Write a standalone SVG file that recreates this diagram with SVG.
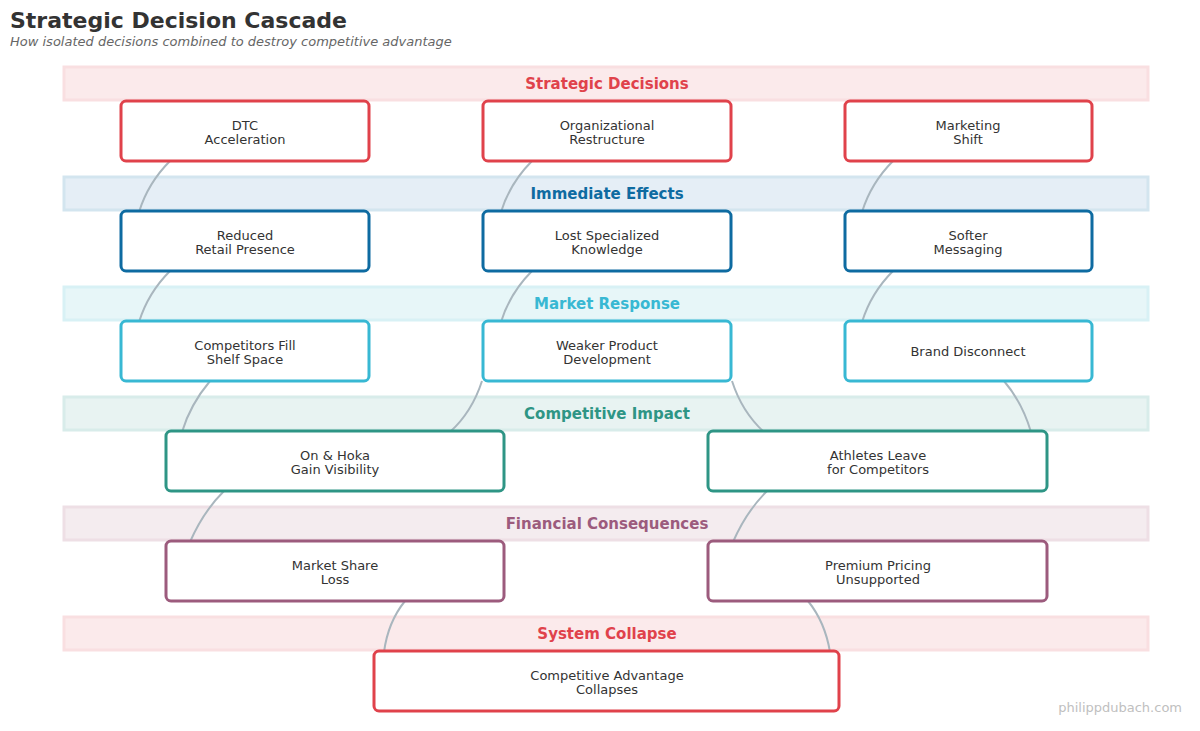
<svg xmlns="http://www.w3.org/2000/svg" width="1200" height="731" viewBox="0 0 1200 731">
<style>
text{font-family:"DejaVu Sans","Noto Sans",sans-serif}
.t{font-size:13px;fill:#333;text-anchor:middle}
.bl{font-size:15px;font-weight:bold;text-anchor:middle}
.n{fill:#fff;stroke-width:3}
.e{fill:none;stroke:#a9b6be;stroke-width:2}
</style>
<rect width="1200" height="731" fill="#fff"/>
<text x="10" y="28" font-size="22" font-weight="bold" fill="#333">Strategic Decision Cascade</text>
<text x="10" y="46" font-size="13" font-style="italic" fill="#666">How isolated decisions combined to destroy competitive advantage</text>
<g id="bands" stroke-width="3">
<rect x="64" y="67" width="1084" height="33" fill="#fbeaeb" stroke="#f9dfe1"/>
<rect x="64" y="177" width="1084" height="33" fill="#e5eef6" stroke="#d3e5ef"/>
<rect x="64" y="287" width="1084" height="33" fill="#e7f6f8" stroke="#d8f1f5"/>
<rect x="64" y="397" width="1084" height="33" fill="#e8f3f2" stroke="#d8ecea"/>
<rect x="64" y="507" width="1084" height="33" fill="#f4ecef" stroke="#eedfe5"/>
<rect x="64" y="617" width="1084" height="33" fill="#fbeaeb" stroke="#f9dfe1"/>
<text class="bl" x="607" y="89" fill="#e0424b">Strategic Decisions</text>
<text class="bl" x="607" y="199" fill="#0e6ba1">Immediate Effects</text>
<text class="bl" x="607" y="309" fill="#38b8d3">Market Response</text>
<text class="bl" x="607" y="419" fill="#2e9585">Competitive Impact</text>
<text class="bl" x="607" y="529" fill="#9c5b7d">Financial Consequences</text>
<text class="bl" x="607" y="639" fill="#e0424b">System Collapse</text>
</g>
<g id="connectors">
<path class="e" d="M170,161 Q148,183 139,212"/>
<path class="e" d="M532,161 Q510,183 501,212"/>
<path class="e" d="M893,161 Q871,183 862,212"/>
<path class="e" d="M170,271 Q148,293 139,322"/>
<path class="e" d="M532,271 Q510,293 501,322"/>
<path class="e" d="M893,271 Q871,293 862,322"/>
<path class="e" d="M210,381 Q190,405 182,432"/>
<path class="e" d="M482,381 Q472,412 450,432"/>
<path class="e" d="M732,381 Q742,412 764,432"/>
<path class="e" d="M1004,381 Q1022,402 1031,432"/>
<path class="e" d="M224,491 Q203,512 190,542"/>
<path class="e" d="M767,491 Q746,512 733,542"/>
<path class="e" d="M405,601 Q388,622 384,652"/>
<path class="e" d="M808,601 Q825,622 830,652"/>
</g>
<g id="n1"><rect class="n" x="121" y="101" width="248" height="60" rx="5" stroke="#e0424b"/><text class="t" x="245" y="130">DTC</text><text class="t" x="245" y="144">Acceleration</text></g>
<g id="n2"><rect class="n" x="483" y="101" width="248" height="60" rx="5" stroke="#e0424b"/><text class="t" x="607" y="130">Organizational</text><text class="t" x="607" y="144">Restructure</text></g>
<g id="n3"><rect class="n" x="845" y="101" width="247" height="60" rx="5" stroke="#e0424b"/><text class="t" x="968" y="130">Marketing</text><text class="t" x="968" y="144">Shift</text></g>
<g id="n4"><rect class="n" x="121" y="211" width="248" height="60" rx="5" stroke="#0e6ba1"/><text class="t" x="245" y="240">Reduced</text><text class="t" x="245" y="254">Retail Presence</text></g>
<g id="n5"><rect class="n" x="483" y="211" width="248" height="60" rx="5" stroke="#0e6ba1"/><text class="t" x="607" y="240">Lost Specialized</text><text class="t" x="607" y="254">Knowledge</text></g>
<g id="n6"><rect class="n" x="845" y="211" width="247" height="60" rx="5" stroke="#0e6ba1"/><text class="t" x="968" y="240">Softer</text><text class="t" x="968" y="254">Messaging</text></g>
<g id="n7"><rect class="n" x="121" y="321" width="248" height="60" rx="5" stroke="#38b8d3"/><text class="t" x="245" y="350">Competitors Fill</text><text class="t" x="245" y="364">Shelf Space</text></g>
<g id="n8"><rect class="n" x="483" y="321" width="248" height="60" rx="5" stroke="#38b8d3"/><text class="t" x="607" y="350">Weaker Product</text><text class="t" x="607" y="364">Development</text></g>
<g id="n9"><rect class="n" x="845" y="321" width="247" height="60" rx="5" stroke="#38b8d3"/><text class="t" x="968" y="356">Brand Disconnect</text></g>
<g id="n10"><rect class="n" x="166" y="431" width="338" height="60" rx="5" stroke="#2e9585"/><text class="t" x="335" y="460">On &amp; Hoka</text><text class="t" x="335" y="474">Gain Visibility</text></g>
<g id="n11"><rect class="n" x="708" y="431" width="339" height="60" rx="5" stroke="#2e9585"/><text class="t" x="878" y="460">Athletes Leave</text><text class="t" x="878" y="474">for Competitors</text></g>
<g id="n12"><rect class="n" x="166" y="541" width="338" height="60" rx="5" stroke="#9c5b7d"/><text class="t" x="335" y="570">Market Share</text><text class="t" x="335" y="584">Loss</text></g>
<g id="n13"><rect class="n" x="708" y="541" width="339" height="60" rx="5" stroke="#9c5b7d"/><text class="t" x="878" y="570">Premium Pricing</text><text class="t" x="878" y="584">Unsupported</text></g>
<g id="n14"><rect class="n" x="374" y="651" width="465" height="60" rx="5" stroke="#e0424b"/><text class="t" x="607" y="680">Competitive Advantage</text><text class="t" x="607" y="694">Collapses</text></g>
<text x="1182" y="712" font-size="13" fill="#c0c0c0" text-anchor="end">philippdubach.com</text>
</svg>
